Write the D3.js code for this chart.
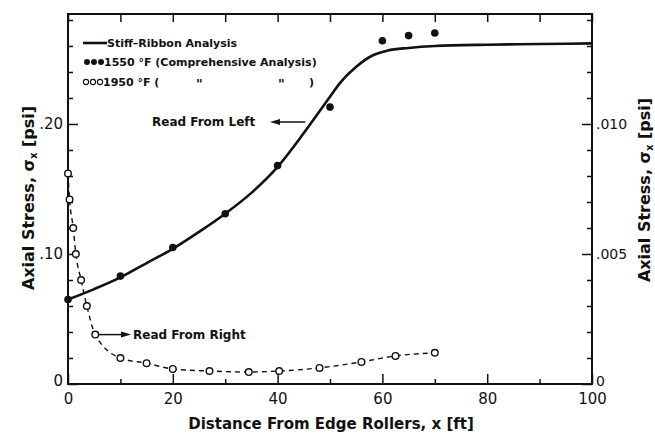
<!DOCTYPE html>
<html>
<head>
<meta charset="utf-8">
<script src="https://cdn.jsdelivr.net/npm/d3@7"></script>
<style>
  body { margin: 0; background: #fff; }
  svg { display: block; }
  text { font-family: "DejaVu Sans", sans-serif; fill: #111; }
</style>
</head>
<body>
<div id="chart"></div>
<script>
// stiff-ribbon analysis curve (left scale, psi)
var ribbonX = [0, 5, 10, 15, 20, 25, 30, 35, 40, 45, 50, 52, 55, 58, 61, 65, 70, 80, 90, 100];
var ribbonY = [0.065, 0.073, 0.082, 0.093, 0.104, 0.117, 0.131, 0.147, 0.167, 0.193, 0.221, 0.232, 0.244, 0.2525, 0.2565, 0.2585, 0.260, 0.261, 0.2615, 0.262];

// 1550 F comprehensive analysis (left scale)
var hotX = [0, 10, 20, 30, 40, 50, 60, 65, 70];
var hotY = [0.065, 0.083, 0.105, 0.131, 0.168, 0.213, 0.264, 0.268, 0.270];

// 1950 F comprehensive analysis (right scale)
var coolX = [0, 0.3, 1, 1.5, 2.5, 3.6, 5.2, 10, 15, 20, 27, 34.5, 40.3, 48, 56, 62.5, 70];
var coolY = [0.0081, 0.0071, 0.0060, 0.0050, 0.0040, 0.0030, 0.0019, 0.0010, 0.0008, 0.00058, 0.0005, 0.00046, 0.0005, 0.00062, 0.00085, 0.00108, 0.0012];

var xMajor = [0, 20, 40, 60, 80, 100];
var xMinor = [10, 30, 50, 70, 90];
var leftMajor = [0, 0.10, 0.20];
var leftLabels = ["0", ".10", ".20"];
var leftMinor = [0.02, 0.04, 0.06, 0.08, 0.12, 0.14, 0.16, 0.18, 0.22, 0.24, 0.26, 0.28];
var rightMajor = [0, 0.005, 0.010];
var rightLabels = ["0", ".005", ".010"];
var rightMinor = [0.001, 0.002, 0.003, 0.004, 0.006, 0.007, 0.008, 0.009, 0.011, 0.012, 0.013, 0.014];

var width = 655, height = 435;
var svg = d3.select("#chart").append("svg").attr("width", width).attr("height", height);

var x = d3.scaleLinear().domain([0, 100]).range([68, 592]);
var yL = d3.scaleLinear().domain([0, 0.2846]).range([384, 14]);
var yR = d3.scaleLinear().domain([0, 0.01423]).range([384, 14]);

// axes, ticks pointing inward
function axisGroup(axis, tx, ty, fs) {
  var g = svg.append("g").attr("transform", "translate(" + tx + "," + ty + ")").call(axis);
  g.select(".domain").remove();
  g.selectAll("line").attr("stroke", "#111").attr("stroke-width", 1.5);
  g.selectAll("text").style("font-size", (fs || 15) + "px").attr("fill", "#111");
  return g;
}

axisGroup(d3.axisBottom(x).tickValues(xMajor).tickSize(-10).tickPadding(9), 0, 384, 15);
axisGroup(d3.axisBottom(x).tickValues(xMinor).tickSize(-5).tickFormat(""), 0, 384);
axisGroup(d3.axisTop(x).tickValues(xMajor.concat(xMinor)).tickSize(-8).tickFormat(""), 0, 14);

var gl = axisGroup(d3.axisLeft(yL).tickValues(leftMajor).tickSize(-10).tickPadding(5)
  .tickFormat(function(d, i) { return leftLabels[i]; }), 68, 0, 15);
gl.selectAll("text").filter(function(d) { return d === 0; }).attr("dy", "0.1em");
axisGroup(d3.axisLeft(yL).tickValues(leftMinor).tickSize(-5).tickFormat(""), 68, 0);

var gr = axisGroup(d3.axisRight(yR).tickValues(rightMajor).tickSize(-10).tickPadding(4)
  .tickFormat(function(d, i) { return rightLabels[i]; }), 592, 0, 14);
gr.selectAll("text").filter(function(d) { return d === 0; }).attr("dy", "0.1em");
axisGroup(d3.axisRight(yR).tickValues(rightMinor).tickSize(-5).tickFormat(""), 592, 0);

// frame
svg.append("rect")
  .attr("x", x(0)).attr("y", yL.range()[1])
  .attr("width", x(100) - x(0)).attr("height", yL.range()[0] - yL.range()[1])
  .attr("fill", "none").attr("stroke", "#111").attr("stroke-width", 2);

// solid curve
var ribbon = ribbonX.map(function(d, i) { return [d, ribbonY[i]]; });
svg.append("path")
  .datum(ribbon)
  .attr("fill", "none").attr("stroke", "#111").attr("stroke-width", 2.6)
  .attr("d", d3.line().x(function(d) { return x(d[0]); }).y(function(d) { return yL(d[1]); }).curve(d3.curveMonotoneX));

// dashed curve
var cool = coolX.map(function(d, i) { return [d, coolY[i]]; });
svg.append("path")
  .datum(cool)
  .attr("fill", "none").attr("stroke", "#111").attr("stroke-width", 1.4)
  .attr("stroke-dasharray", "5,4")
  .attr("d", d3.line().x(function(d) { return x(d[0]); }).y(function(d) { return yR(d[1]); }).curve(d3.curveMonotoneX));

svg.append("g").selectAll("circle")
  .data(cool).enter().append("circle")
  .attr("cx", function(d) { return x(d[0]); })
  .attr("cy", function(d) { return yR(d[1]); })
  .attr("r", 3.3)
  .attr("fill", "#fff").attr("stroke", "#111").attr("stroke-width", 1.4);

var hot = hotX.map(function(d, i) { return [d, hotY[i]]; });
svg.append("g").selectAll("circle")
  .data(hot).enter().append("circle")
  .attr("cx", function(d) { return x(d[0]); })
  .attr("cy", function(d) { return yL(d[1]); })
  .attr("r", 3.8)
  .attr("fill", "#111");

// legend
var lg = svg.append("g").attr("class", "legend");
lg.append("line").attr("x1", 83).attr("x2", 107).attr("y1", 43).attr("y2", 43)
  .attr("stroke", "#111").attr("stroke-width", 2.6);
lg.append("text").attr("x", 107).attr("y", 47).style("font-size", "11px").style("font-weight", "bold")
  .text("Stiff\u2013Ribbon Analysis");
[87, 94, 101].forEach(function(cx) {
  lg.append("circle").attr("cx", cx).attr("cy", 62).attr("r", 3).attr("fill", "#111");
  lg.append("circle").attr("cx", cx - 1).attr("cy", 82).attr("r", 2.6)
    .attr("fill", "#fff").attr("stroke", "#111").attr("stroke-width", 1.1);
});
lg.append("text").attr("x", 104).attr("y", 66).style("font-size", "11px").style("font-weight", "bold")
  .text("1550 \u00b0F (Comprehensive Analysis)");
lg.append("text").attr("x", 103).attr("y", 86).style("font-size", "11px").style("font-weight", "bold")
  .text("1950 \u00b0F (");
lg.append("text").attr("x", 196).attr("y", 88).style("font-size", "13px").style("font-weight", "bold").text("\"");
lg.append("text").attr("x", 278).attr("y", 88).style("font-size", "13px").style("font-weight", "bold").text("\"");
lg.append("text").attr("x", 309).attr("y", 86).style("font-size", "11px").style("font-weight", "bold").text(")");

// annotations
function arrow(x1, x2, yy) {
  var dir = x2 > x1 ? 1 : -1;
  svg.append("line").attr("x1", x1).attr("x2", x2 - dir * 6).attr("y1", yy).attr("y2", yy)
    .attr("stroke", "#111").attr("stroke-width", 1.5);
  svg.append("path")
    .attr("d", "M" + x2 + "," + yy + "L" + (x2 - dir * 10) + "," + (yy - 3) + "L" + (x2 - dir * 10) + "," + (yy + 3) + "Z")
    .attr("fill", "#111");
}
svg.append("text").attr("x", 152).attr("y", 126).style("font-size", "12px").style("font-weight", "bold")
  .text("Read From Left");
arrow(x(45.3), 270, 122);
arrow(x(coolX[6]) + 3, 131, yR(coolY[6]));
svg.append("text").attr("x", 133).attr("y", yR(coolY[6]) + 4).style("font-size", "12px").style("font-weight", "bold")
  .text("Read From Right");

// axis titles
function yTitle(tx, ty) {
  var t = svg.append("text")
    .attr("transform", "translate(" + tx + "," + ty + ") rotate(-90)")
    .attr("text-anchor", "middle")
    .style("font-size", "16px").style("font-weight", "bold");
  t.append("tspan").text("Axial Stress, \u03c3");
  t.append("tspan").attr("dy", 3).style("font-size", "10px").text("x");
  t.append("tspan").attr("dy", -3).text(" [psi]");
}
yTitle(34, 198);
yTitle(650, 190);

svg.append("text").attr("x", 331).attr("y", 429).attr("text-anchor", "middle")
  .style("font-size", "15px").style("font-weight", "bold")
  .text("Distance From Edge Rollers, x [ft]");
</script>
</body>
</html>
